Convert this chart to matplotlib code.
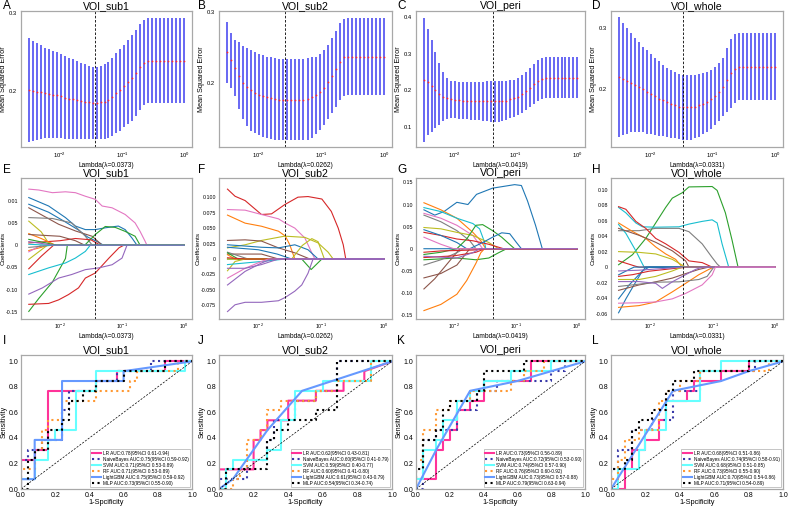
import numpy as np
import matplotlib
matplotlib.use('Agg')
import matplotlib.pyplot as plt
from matplotlib.ticker import NullLocator

plt.rcParams['font.family'] = ['Liberation Sans', 'DejaVu Sans']

titles = ['VOI_sub1', 'VOI_sub2', 'VOI_peri', 'VOI_whole']
best_lambda = [0.0373, 0.0262, 0.0419, 0.0331]

# lambda grid of the cross-validation
lambdas = np.logspace(-2.5, 0, 40)

# ---- row 1: CV mean squared error (mean and sd per lambda) ----
mse_sub1 = [0.201, 0.200, 0.199, 0.198, 0.197, 0.196, 0.195, 0.194, 0.193, 0.191,
            0.190, 0.189, 0.188, 0.187, 0.186, 0.185, 0.184, 0.184, 0.185, 0.186,
            0.188, 0.192, 0.197, 0.201, 0.206, 0.211, 0.216, 0.223, 0.230, 0.236,
            0.2385, 0.2385, 0.2385, 0.2385, 0.2385, 0.2385, 0.2385, 0.2385, 0.2385, 0.2385]
sd_sub1 = [0.066, 0.064, 0.062, 0.060, 0.058, 0.057, 0.056, 0.055, 0.054, 0.053,
           0.052, 0.051, 0.050, 0.049, 0.048, 0.047, 0.046, 0.046, 0.047, 0.048,
           0.049, 0.050, 0.051, 0.052, 0.053, 0.054, 0.055, 0.055, 0.055, 0.0545,
           0.0545, 0.0545, 0.0545, 0.0545, 0.0545, 0.0545, 0.0545, 0.0545, 0.0545, 0.0545]
mse_sub2 = [0.243, 0.232, 0.221, 0.210, 0.200, 0.194, 0.189, 0.186, 0.183, 0.181,
            0.179, 0.178, 0.177, 0.176, 0.176, 0.176, 0.176, 0.176, 0.176, 0.176,
            0.177, 0.179, 0.182, 0.187, 0.193, 0.201, 0.210, 0.220, 0.230, 0.236,
            0.237, 0.237, 0.237, 0.237, 0.237, 0.237, 0.237, 0.237, 0.237, 0.237]
sd_sub2 = [0.043, 0.039, 0.040, 0.048, 0.052, 0.055, 0.057, 0.058, 0.058, 0.058,
           0.058, 0.058, 0.058, 0.058, 0.058, 0.058, 0.058, 0.058, 0.058, 0.058,
           0.058, 0.057, 0.055, 0.054, 0.053, 0.053, 0.053, 0.054, 0.055, 0.055,
           0.0545, 0.0545, 0.0545, 0.0545, 0.0545, 0.0545, 0.0545, 0.0545, 0.0545, 0.0545]
mse_peri = [0.229, 0.222, 0.212, 0.200, 0.190, 0.183, 0.178, 0.175, 0.174, 0.173,
            0.172, 0.172, 0.171, 0.171, 0.171, 0.170, 0.170, 0.170, 0.170, 0.170,
            0.171, 0.172, 0.175, 0.178, 0.183, 0.190, 0.198, 0.207, 0.217, 0.226,
            0.232, 0.2345, 0.2345, 0.2345, 0.2345, 0.2345, 0.2345, 0.2345, 0.2345, 0.2345]
sd_peri = [0.169, 0.145, 0.125, 0.104, 0.084, 0.067, 0.057, 0.051, 0.051, 0.051,
           0.051, 0.051, 0.051, 0.051, 0.051, 0.053, 0.055, 0.056, 0.056, 0.056,
           0.055, 0.054, 0.052, 0.050, 0.050, 0.051, 0.052, 0.053, 0.055, 0.056,
           0.056, 0.056, 0.056, 0.056, 0.056, 0.056, 0.056, 0.056, 0.056, 0.056]
mse_whole = [0.220, 0.217, 0.214, 0.211, 0.207, 0.204, 0.200, 0.196, 0.192, 0.189,
             0.185, 0.182, 0.179, 0.176, 0.174, 0.172, 0.171, 0.1705, 0.171, 0.172,
             0.174, 0.177, 0.180, 0.184, 0.189, 0.196, 0.204, 0.215, 0.226, 0.234,
             0.237, 0.237, 0.237, 0.237, 0.237, 0.237, 0.237, 0.237, 0.237, 0.237]
sd_whole = [0.098, 0.092, 0.086, 0.081, 0.077, 0.073, 0.070, 0.068, 0.065, 0.063,
            0.061, 0.058, 0.056, 0.055, 0.054, 0.0535, 0.053, 0.053, 0.053, 0.052,
            0.051, 0.050, 0.049, 0.048, 0.047, 0.047, 0.048, 0.052, 0.056, 0.056,
            0.055, 0.055, 0.055, 0.055, 0.055, 0.055, 0.055, 0.055, 0.055, 0.055]

# ---- row 2: lasso coefficient paths, points are (log10 lambda, coefficient) ----
paths_sub1 = [
    [(-2.5, 0.126), (-2.34, 0.124), (-2.12, 0.118), (-1.91, 0.120), (-1.75, 0.118), (-1.59, 0.110), (-1.43, 0.103),
     (-1.32, 0.088), (-1.16, 0.084), (-0.95, 0.069), (-0.79, 0.050), (-0.71, 0.031), (-0.63, 0.009), (-0.60, 0), (0, 0)],
    [(-2.5, 0.107), (-2.18, 0.088), (-1.91, 0.062), (-1.75, 0.043), (-1.59, 0.035), (-1.43, 0.035), (-1.27, 0.039),
     (-1.06, 0.043), (-0.95, 0.035), (-0.84, 0.016), (-0.76, 0), (0, 0)],
    [(-2.5, 0.092), (-2.18, 0.074), (-1.91, 0.052), (-1.70, 0.034), (-1.55, 0.018), (-1.40, 0.008), (-1.30, 0), (0, 0)],
    [(-2.5, 0.084), (-2.02, 0.047), (-1.75, 0.032), (-1.48, 0.020), (-1.32, 0), (0, 0)],
    [(-2.5, 0.062), (-2.12, 0.060), (-1.81, 0.050), (-1.59, 0.020), (-1.48, 0), (0, 0)],
    [(-2.5, 0.054), (-2.3, 0.030), (-2.16, 0), (0, 0)],
    [(-2.5, -0.149), (-2.34, -0.120), (-2.12, -0.083), (-1.91, -0.030), (-1.88, 0), (-1.60, 0), (-1.43, 0.024),
     (-1.27, 0.042), (-1.11, 0.040), (-0.95, 0.031), (-0.79, 0.020), (-0.71, 0), (0, 0)],
    [(-2.5, -0.133), (-2.18, -0.131), (-2.02, -0.123), (-1.86, -0.111), (-1.70, -0.096), (-1.59, -0.074),
     (-1.43, -0.0625), (-1.21, -0.029), (-1.05, -0.006), (-0.97, 0), (0, 0)],
    [(-2.5, -0.110), (-2.28, -0.096), (-2.02, -0.074), (-1.81, -0.066), (-1.59, -0.055), (-1.37, -0.051),
     (-1.16, -0.044), (-1.00, -0.029), (-0.92, 0), (0, 0)],
    [(-2.5, -0.066), (-2.18, -0.051), (-1.91, -0.040), (-1.75, -0.029), (-1.59, -0.014), (-1.51, 0), (0, 0)],
    [(-2.5, 0.005), (-2.0, 0.010), (-1.75, 0.015), (-1.5, 0.012), (-1.35, 0), (0, 0)],
    [(-2.5, -0.053), (-2.3, -0.025), (-2.1, 0), (0, 0)],
    [(-2.5, 0.026), (-2.3, 0.015), (-2.07, 0), (0, 0)],
    [(-2.5, -0.012), (-2.3, -0.005), (-2.2, 0), (0, 0)],
    [(-2.5, 0.024), (-2.0, 0.020), (-1.75, 0.010), (-1.6, 0), (0, 0)],
    [(-2.5, -0.015), (-2.3, 0), (0, 0)],
    [(-2.5, -0.032), (-2.2, 0), (0, 0)],
    [(-2.5, -0.005), (-2.1, 0), (0, 0)],
    [(-2.5, 0.013), (-2.05, 0), (0, 0)],
    [(-2.5, 0.002), (-2.2, 0), (0, 0)],
    [(-2.5, 0.008), (-2.1, 0), (0, 0)],
]
colors_sub1 = ['C6', 'C0', 'C0', 'C5', 'C7', 'C8', 'C2', 'C3', 'C4', 'C9', 'C3', 'C3', 'C1', 'C1', 'C5',
               'C6', 'C8', 'C7', 'C2', 'C9', 'C4']

paths_sub2 = [
    [(-2.49, 0.113), (-2.37, 0.1015), (-2.21, 0.0945), (-1.95, 0.072), (-1.79, 0.073), (-1.58, 0.088), (-1.37, 0.100),
     (-1.21, 0.101), (-0.99, 0.097), (-0.84, 0.077), (-0.73, 0.050), (-0.65, 0.023), (-0.61, 0), (0, 0)],
    [(-2.49, 0.080), (-2.21, 0.079), (-1.95, 0.072), (-1.68, 0.065), (-1.57, 0.058), (-1.42, 0.050), (-1.26, 0.034),
     (-1.15, 0.010), (-1.10, 0), (0, 0)],
    [(-2.49, 0.071), (-2.21, 0.058), (-1.95, 0.053), (-1.68, 0.045), (-1.57, 0.037), (-1.50, 0.023), (-1.42, 0), (0, 0)],
    [(-2.49, 0.018), (-2.21, 0.023), (-1.95, 0.030), (-1.58, 0.037), (-1.26, 0.035), (-1.05, 0.026), (-0.89, 0.011),
     (-0.81, 0), (0, 0)],
    [(-2.49, 0.030), (-2.21, 0.031), (-1.95, 0.029), (-1.68, 0.018), (-1.42, 0.010), (-1.18, 0), (0, 0)],
    [(-2.49, 0.023), (-2.21, 0.021), (-1.95, 0.019), (-1.68, 0.018), (-1.42, 0.023), (-1.21, 0.015), (-1.05, 0), (0, 0)],
    [(-2.49, 0.019), (-2.0, 0.015), (-1.7, 0.008), (-1.47, 0), (0, 0)],
    [(-2.49, 0), (-1.31, 0), (-1.16, -0.017), (-0.99, 0), (0, 0)],
    [(-2.49, 0), (-1.47, 0), (-1.30, 0.022), (-1.15, 0.033), (-1.05, 0.028), (-0.95, 0), (0, 0)],
    [(-2.49, 0.008), (-1.95, 0.008), (-1.68, 0), (0, 0)],
    [(-2.49, 0.011), (-2.21, 0.0016), (-2.16, 0), (0, 0)],
    [(-2.49, 0.007), (-2.37, 0), (0, 0)],
    [(-2.49, 0.010), (-2.32, 0), (0, 0)],
    [(-2.49, -0.019), (-2.37, -0.004), (-2.21, 0), (0, 0)],
    [(-2.49, -0.009), (-1.95, -0.004), (-1.57, 0), (0, 0)],
    [(-2.49, 0.002), (-2.2, 0), (0, 0)],
    [(-2.49, -0.031), (-2.21, -0.015), (-1.95, -0.004), (-1.84, 0), (0, 0)],
    [(-2.49, -0.015), (-2.21, -0.015), (-1.95, -0.009), (-1.68, 0), (0, 0)],
    [(-2.49, -0.042), (-2.21, -0.020), (-1.95, -0.0065), (-1.79, 0), (0, 0)],
    [(-2.49, -0.085), (-2.37, -0.074), (-2.21, -0.070), (-1.95, -0.070), (-1.68, -0.0675), (-1.57, -0.062),
     (-1.42, -0.052), (-1.31, -0.042), (-1.21, -0.023), (-1.13, 0), (0, 0)],
]
colors_sub2 = ['C3', 'C6', 'C1', 'C8', 'C5', 'C0', 'C0', 'C2', 'C8', 'C5', 'C7', 'C1', 'C2', 'C8', 'C9',
               'C3', 'C6', 'C4', 'C4', 'C4']

paths_peri = [
    [(-2.496, 0.088), (-2.32, 0.076), (-2.17, 0.084), (-1.96, 0.105), (-1.78, 0.100), (-1.64, 0.123), (-1.38, 0.137),
     (-1.02, 0.145), (-0.91, 0.143), (-0.81, 0.108), (-0.68, 0.053), (-0.57, 0), (0, 0)],
    [(-2.496, 0.104), (-2.22, 0.088), (-1.96, 0.069), (-1.70, 0.037), (-1.57, 0.018), (-1.49, 0), (0, 0)],
    [(-2.496, 0.093), (-2.22, 0.084), (-1.96, 0.069), (-1.70, 0.057), (-1.59, 0.045), (-1.51, 0.015), (-1.49, 0), (0, 0)],
    [(-2.496, 0.080), (-2.22, 0.069), (-1.96, 0.053), (-1.70, 0.030), (-1.54, 0), (0, 0)],
    [(-2.496, 0.076), (-2.22, 0.061), (-1.96, 0.041), (-1.75, 0.018), (-1.65, 0), (0, 0)],
    [(-2.496, 0.048), (-2.22, 0.045), (-1.96, 0.037), (-1.70, 0.030), (-1.44, 0.014), (-1.28, 0), (0, 0)],
    [(-2.496, 0.037), (-2.22, 0.030), (-1.96, 0.022), (-1.70, 0.018), (-1.44, 0.010), (-1.20, 0), (0, 0)],
    [(-2.496, 0.043), (-2.22, 0.030), (-1.96, 0.014), (-1.80, 0), (0, 0)],
    [(-2.496, -0.013), (-2.22, -0.008), (-1.96, 0), (-1.80, 0.022), (-1.65, 0.053), (-1.54, 0.0545), (-1.38, 0.041),
     (-1.23, 0.026), (-1.07, 0.006), (-1.02, 0), (0, 0)],
    [(-2.496, -0.025), (-2.22, -0.023), (-1.96, -0.021), (-1.65, -0.025), (-1.44, -0.021), (-1.28, -0.009),
     (-1.15, 0), (0, 0)],
    [(-2.496, 0), (-1.75, 0), (-1.54, 0.014), (-1.38, 0.026), (-1.23, 0.036), (-1.10, 0.034), (-0.99, 0.014),
     (-0.91, 0), (0, 0)],
    [(-2.496, -0.140), (-2.22, -0.126), (-1.96, -0.103), (-1.80, -0.072), (-1.65, -0.033), (-1.57, -0.009),
     (-1.51, 0), (0, 0)],
    [(-2.496, -0.066), (-2.22, -0.056), (-1.96, -0.037), (-1.80, -0.009), (-1.75, 0), (0, 0)],
    [(-2.496, -0.091), (-2.32, -0.068), (-2.11, -0.033), (-1.96, -0.008), (-1.91, 0), (0, 0)],
    [(-2.496, -0.037), (-2.22, -0.025), (-1.96, -0.009), (-1.85, 0), (0, 0)],
    [(-2.496, -0.008), (-2.22, -0.005), (-1.70, -0.003), (-1.44, 0), (0, 0)],
    [(-2.496, -0.020), (-2.0, -0.016), (-1.65, -0.008), (-1.5, 0), (0, 0)],
    [(-2.496, 0.026), (-2.22, 0.010), (-2.01, 0), (0, 0)],
    [(-2.496, -0.017), (-1.96, -0.021), (-1.70, -0.009), (-1.59, 0), (0, 0)],
]
colors_peri = ['C0', 'C1', 'C9', 'C6', 'C7', 'C8', 'C3', 'C0', 'C2', 'C2', 'C0', 'C1', 'C5', 'C5', 'C7',
               'C3', 'C3', 'C6', 'C4']

paths_whole = [
    [(-2.504, 0.003), (-2.281, 0.016), (-2.069, 0.037), (-1.910, 0.057), (-1.751, 0.077), (-1.645, 0.089),
     (-1.485, 0.096), (-1.379, 0.1035), (-1.008, 0.104), (-0.928, 0.099), (-0.796, 0.070), (-0.690, 0.035),
     (-0.594, 0), (0, 0)],
    [(-2.504, 0.077), (-2.387, 0.070), (-2.228, 0.057), (-2.122, 0.052), (-1.910, 0.0515), (-1.538, 0.052),
     (-1.379, 0.0555), (-1.167, 0.059), (-1.008, 0.061), (-0.928, 0.057), (-0.849, 0.030), (-0.743, 0), (0, 0)],
    [(-2.504, 0.047), (-2.175, 0.047), (-1.910, 0.050), (-1.538, 0.050), (-1.379, 0.0457), (-1.167, 0.030),
     (-1.008, 0.0124), (-0.928, 0.004), (-0.875, 0), (0, 0)],
    [(-2.504, 0.078), (-2.387, 0.0746), (-2.228, 0.059), (-2.069, 0.050), (-1.910, 0.037), (-1.751, 0.030),
     (-1.538, 0.019), (-1.379, 0.008), (-1.167, 0.0058), (-1.008, 0), (0, 0)],
    [(-2.504, 0.057), (-2.281, 0.046), (-2.069, 0.037), (-1.910, 0.026), (-1.751, 0.017), (-1.592, 0.010),
     (-1.485, 0), (0, 0)],
    [(-2.504, 0.055), (-2.387, 0.0435), (-2.228, 0.021), (-2.122, 0.004), (-2.095, 0), (0, 0)],
    [(-2.504, 0.020), (-2.175, 0.019), (-1.910, 0.017), (-1.645, 0.010), (-1.432, 0), (0, 0)],
    [(-2.504, 0.050), (-2.175, 0.041), (-1.910, 0.032), (-1.645, 0.021), (-1.432, 0.008), (-1.379, 0), (0, 0)],
    [(-2.504, 0.008), (-2.228, 0.001), (-2.175, 0), (0, 0)],
    [(-2.504, -0.059), (-2.387, -0.041), (-2.228, -0.019), (-2.122, -0.005), (-2.069, 0), (0, 0)],
    [(-2.504, -0.041), (-2.334, -0.023), (-2.122, -0.005), (-2.016, 0), (0, 0)],
    [(-2.504, -0.010), (-2.334, -0.003), (-2.255, 0), (0, 0)],
    [(-2.504, -0.052), (-2.175, -0.0497), (-1.910, -0.045), (-1.645, -0.032), (-1.432, -0.021), (-1.220, -0.0098),
     (-1.061, -0.003), (-0.981, 0), (0, 0)],
    [(-2.504, -0.012), (-2.281, -0.0098), (-2.016, -0.0053), (-1.645, -0.002), (-1.379, 0), (0, 0)],
    [(-2.504, -0.030), (-2.175, -0.023), (-1.910, -0.019), (-1.645, -0.0142), (-1.485, -0.0098), (-1.220, -0.003),
     (-1.061, 0), (0, 0)],
    [(-2.504, -0.025), (-2.175, -0.022), (-1.910, -0.0195), (-1.538, -0.019), (-1.220, -0.016), (-1.088, -0.012),
     (-0.981, 0), (0, 0)],
    [(-2.504, -0.016), (-2.175, -0.016), (-1.910, -0.012), (-1.645, -0.005), (-1.485, 0), (0, 0)],
    [(-2.504, -0.0187), (-2.175, -0.0187), (-1.910, -0.021), (-1.804, -0.0275), (-1.645, -0.019), (-1.432, -0.0098),
     (-1.273, -0.003), (-1.167, 0), (0, 0)],
    [(-2.504, -0.005), (-2.175, -0.004), (-1.645, -0.001), (-1.485, 0), (0, 0)],
    [(-2.504, -0.0466), (-2.175, -0.046), (-1.910, -0.045), (-1.645, -0.041), (-1.432, -0.034), (-1.167, -0.023),
     (-1.008, -0.010), (-0.955, 0), (0, 0)],
]
colors_whole = ['C2', 'C9', 'C7', 'C3', 'C1', 'C9', 'C8', 'C5', 'C3', 'C0', 'C0', 'C0', 'C1', 'C3', 'C5',
                'C7', 'C8', 'C4', 'C4', 'C6']

coef_ylim = [(-0.166, 0.151), (-0.097, 0.131), (-0.159, 0.160), (-0.067, 0.115)]
coef_ticks = [[-0.15, -0.10, -0.05, 0, 0.05, 0.10],
              [-0.075, -0.05, -0.025, 0, 0.025, 0.05, 0.075, 0.10],
              [-0.15, -0.10, -0.05, 0, 0.05, 0.10, 0.15],
              [-0.06, -0.04, -0.02, 0, 0.02, 0.04, 0.06, 0.08, 0.10]]
coef_ticklabels = [['-0.15', '-0.10', '-0.05', '0', '0.05', '0.01'],
                   ['-0.075', '-0.050', '-0.025', '0', '0.025', '0.050', '0.075', '0.100'],
                   ['-0.15', '-0.10', '-0.05', '0', '0.05', '0.10', '0.15'],
                   ['-0.06', '-0.04', '-0.02', '0', '0.02', '0.04', '0.06', '0.08', '0.10']]

# ---- row 3: ROC curves, test set of 25 negatives and 13 positives (counts of FP / TP) ----
n_neg, n_pos = 25, 13
models = ['LR', 'NaiveBayes', 'SVM', 'RF', 'LightGBM', 'MLP']

auc_sub1 = ['0.78(95%CI 0.61-0.94)', '0.75(95%CI 0.59-0.92)', '0.71(95%CI 0.53-0.89)',
            '0.71(95%CI 0.53-0.89)', '0.75(95%CI 0.59-0.92)', '0.73(95%CI 0.55-0.90)']
fp_sub1 = [[0, 0, 2, 2, 4, 4, 11, 11, 14, 14, 21, 21, 25],
           [0, 0, 1, 1, 3, 3, 6, 6, 7, 7, 11, 11, 14, 14, 19, 19, 25],
           [0, 0, 2, 2, 4, 4, 5, 5, 8, 8, 11, 11, 24, 24, 25],
           [0, 0, 2, 2, 3, 3, 4, 4, 6, 6, 11, 11, 16, 16, 17, 17, 23, 23, 25],
           [0, 0, 2, 2, 6, 6, 15, 15, 25],
           [0, 1, 1, 2, 2, 4, 4, 6, 6, 7, 7, 9, 9, 11, 11, 15, 15, 21, 21, 25]]
tp_sub1 = [[0, 3, 3, 4, 4, 10, 10, 11, 11, 12, 12, 13, 13],
           [0, 3, 3, 4, 4, 5, 5, 8, 8, 10, 10, 11, 11, 12, 12, 13, 13],
           [0, 1, 1, 3, 3, 5, 5, 6, 6, 10, 10, 12, 12, 13, 13],
           [0, 2, 2, 4, 4, 6, 6, 7, 7, 9, 9, 10, 10, 11, 11, 12, 12, 13, 13],
           [0, 1, 1, 5, 5, 11, 11, 12, 13],
           [0, 0, 3, 3, 4, 4, 6, 6, 7, 7, 9, 9, 10, 10, 11, 11, 12, 12, 13, 13]]

auc_sub2 = ['0.62(95%CI 0.43-0.81)', '0.60(95%CI 0.41-0.79)', '0.59(95%CI 0.40-0.77)',
            '0.60(95%CI 0.41-0.80)', '0.61(95%CI 0.43-0.79)', '0.54(95%CI 0.34-0.74)']
fp_sub2 = [[0, 0, 5, 5, 6, 6, 7, 7, 10, 10, 14, 14, 18, 18, 21, 21, 25],
           [0, 0, 4, 4, 7, 7, 8, 8, 11, 11, 14, 14, 17, 17, 25],
           [0, 1, 1, 2, 2, 7, 7, 9, 9, 11, 11, 15, 15, 22, 22, 25],
           [0, 2, 2, 3, 3, 4, 4, 6, 6, 7, 7, 9, 9, 14, 14, 17, 17, 22, 22, 25],
           [0, 2, 7, 12, 25],
           [0, 1, 1, 7, 7, 8, 8, 10, 10, 14, 14, 17, 17, 25]]
tp_sub2 = [[0, 2, 2, 5, 5, 6, 6, 7, 7, 9, 9, 10, 10, 11, 11, 12, 13],
           [0, 1, 1, 3, 3, 5, 5, 7, 7, 9, 9, 10, 10, 13, 13],
           [0, 0, 2, 2, 3, 3, 4, 4, 7, 7, 10, 10, 11, 11, 13, 13],
           [0, 0, 1, 1, 2, 2, 5, 5, 6, 6, 8, 8, 9, 9, 10, 10, 11, 11, 13, 13],
           [0, 1, 6, 10, 13],
           [0, 0, 2, 2, 5, 5, 6, 6, 7, 7, 8, 8, 13, 13]]

auc_peri = ['0.73(95%CI 0.56-0.89)', '0.72(95%CI 0.53-0.90)', '0.74(95%CI 0.57-0.90)',
            '0.76(95%CI 0.60-0.92)', '0.73(95%CI 0.57-0.88)', '0.79(95%CI 0.63-0.94)']
fp_peri = [[0, 0, 3, 3, 4, 4, 5, 5, 6, 6, 8, 8, 10, 10, 17, 17, 25],
           [0, 1, 1, 3, 3, 6, 6, 9, 9, 12, 12, 20, 20, 22, 22, 25],
           [0, 0, 1, 1, 3, 3, 4, 4, 6, 6, 8, 8, 10, 10, 14, 14, 20, 20, 25],
           [0, 0, 1, 1, 3, 3, 5, 5, 8, 8, 14, 14, 16, 16, 19, 19, 25],
           [0, 3, 8, 15, 20, 25],
           [0, 0, 1, 1, 3, 3, 4, 4, 5, 5, 9, 9, 10, 10, 16, 16, 25]]
tp_peri = [[0, 1, 1, 4, 4, 5, 5, 6, 6, 8, 8, 9, 9, 11, 11, 13, 13],
           [0, 0, 5, 5, 6, 6, 8, 8, 10, 10, 11, 11, 12, 12, 13, 13],
           [0, 1, 1, 4, 4, 5, 5, 7, 7, 9, 9, 10, 10, 11, 11, 12, 12, 13, 13],
           [0, 3, 3, 6, 6, 8, 8, 9, 9, 10, 10, 11, 11, 12, 12, 13, 13],
           [0, 4, 10, 11, 12, 13],
           [0, 2, 2, 5, 5, 6, 6, 8, 8, 9, 9, 10, 10, 12, 12, 13, 13]]

auc_whole = ['0.68(95%CI 0.51-0.86)', '0.74(95%CI 0.58-0.91)', '0.68(95%CI 0.51-0.85)',
             '0.73(95%CI 0.55-0.90)', '0.70(95%CI 0.54-0.86)', '0.71(95%CI 0.54-0.89)']
fp_whole = [[0, 2, 2, 3, 3, 5, 5, 7, 7, 8, 8, 11, 11, 12, 12, 16, 16, 20, 20, 25],
            [0, 0, 1, 1, 3, 3, 6, 6, 9, 9, 13, 13, 21, 21, 25],
            [0, 1, 1, 4, 4, 5, 5, 8, 8, 13, 13, 16, 16, 25],
            [0, 0, 1, 1, 2, 2, 4, 4, 7, 7, 8, 8, 10, 10, 13, 13, 23, 23, 25],
            [0, 9, 16, 20, 25],
            [0, 0, 2, 2, 3, 3, 4, 4, 6, 6, 8, 8, 9, 9, 12, 12, 20, 20, 25]]
tp_whole = [[0, 0, 2, 2, 4, 4, 5, 5, 7, 7, 9, 9, 10, 10, 11, 11, 12, 12, 13, 13],
            [0, 2, 2, 4, 4, 6, 6, 7, 7, 10, 10, 12, 12, 13, 13],
            [0, 0, 2, 2, 4, 4, 6, 6, 9, 9, 12, 12, 13, 13],
            [0, 1, 1, 3, 3, 5, 5, 6, 6, 9, 9, 10, 10, 11, 11, 12, 12, 13, 13],
            [0, 10, 11, 12, 13],
            [0, 2, 2, 3, 3, 6, 6, 7, 7, 8, 8, 10, 10, 11, 11, 12, 12, 13, 13]]

mse_list = [(mse_sub1, sd_sub1), (mse_sub2, sd_sub2), (mse_peri, sd_peri), (mse_whole, sd_whole)]
mse_ylim = [(0.128, 0.302), (0.1086, 0.302), (0.045, 0.417), (0.106, 0.328)]
mse_ticks = [[0.2, 0.3], [0.2, 0.3], [0.1, 0.2, 0.3, 0.4], [0.2, 0.3]]
path_list = [(paths_sub1, colors_sub1), (paths_sub2, colors_sub2),
             (paths_peri, colors_peri), (paths_whole, colors_whole)]
roc_list = [(auc_sub1, fp_sub1, tp_sub1), (auc_sub2, fp_sub2, tp_sub2),
            (auc_peri, fp_peri, tp_peri), (auc_whole, fp_whole, tp_whole)]
letters = ['ABCD', 'EFGH', 'IJKL']

roc_styles = [dict(color='#ff3399', ls='-'), dict(color='#3838a8', ls=':'),
              dict(color='#66ffff', ls='-'), dict(color='#ff9933', ls=':'),
              dict(color='#6699ff', ls='-'), dict(color='black', ls=':')]

W, H = 790, 507
fig = plt.figure(figsize=(7.9, 5.07), dpi=100)

cols = [(21, 192), (219, 392), (416, 585), (611, 783)]
rows = [(11, 147), (178, 319), (355, 489)]
letter_x = [3, 198, 397, 592]
letter_y = [6, 170, 341]


def add_ax(c, r):
    l, rr = cols[c]
    t, b = rows[r]
    return fig.add_axes([l / W, 1 - b / H, (rr - l) / W, (b - t) / H])


def frame(ax, fs, pad):
    for s in ax.spines.values():
        s.set_color('#a8a8a8')
        s.set_linewidth(0.9)
    ax.tick_params(length=0, labelsize=fs, pad=pad)


for c in range(4):
    # row 1: cross-validation error
    ax = add_ax(c, 0)
    mean, sd = np.array(mse_list[c][0]), np.array(mse_list[c][1])
    ax.vlines(lambdas, mean - sd, mean + sd, color='#4040f0', lw=1.3, alpha=0.85)
    ax.plot(lambdas, mean, '.', color='#ff3030', ms=2.6, mew=0)
    ax.axvline(best_lambda[c], color='black', ls=(0, (3, 2)), lw=0.6)
    ax.set_xscale('log')
    ax.set_xlim(10 ** -2.625, 10 ** 0.125)
    ax.xaxis.set_minor_locator(NullLocator())
    ax.set_ylim(*mse_ylim[c])
    ax.set_yticks(mse_ticks[c])
    ax.set_yticklabels(['%.1f' % v for v in mse_ticks[c]])
    frame(ax, 4.2, 3)
    ax.set_title(titles[c], fontsize=7.6, pad=1.2)
    ax.set_xlabel('Lambda(\u03bb=%s)' % best_lambda[c], fontsize=4.8, labelpad=1)
    ax.set_ylabel('Mean Squared Error', fontsize=5.2, labelpad=1.5)

    # row 2: coefficient paths
    ax = add_ax(c, 1)
    paths, colors = path_list[c]
    for pts, col in zip(paths, colors):
        lx = np.array([p[0] for p in pts])
        cy = [p[1] for p in pts]
        ax.plot(10 ** lx, cy, color=col, lw=0.8)
    ax.axvline(best_lambda[c], color='black', ls=(0, (3, 2)), lw=0.6)
    ax.set_xscale('log')
    ax.set_xlim(10 ** -2.625, 10 ** 0.125)
    ax.xaxis.set_minor_locator(NullLocator())
    ax.set_ylim(*coef_ylim[c])
    ax.set_yticks(coef_ticks[c])
    ax.set_yticklabels(coef_ticklabels[c])
    frame(ax, 3.8, 2.2)
    ax.set_title(titles[c], fontsize=7.6, pad=0.5)
    ax.set_xlabel('Lambda(\u03bb=%s)' % best_lambda[c], fontsize=4.8, labelpad=1)
    ax.set_ylabel('Coefficients', fontsize=4.6, labelpad=0.3)

    # row 3: ROC curves
    ax = add_ax(c, 2)
    aucs, fps, tps = roc_list[c]
    for m, auc, fp, tp, st in zip(models, aucs, fps, tps, roc_styles):
        ax.plot(np.array(fp) / n_neg, np.array(tp) / n_pos, lw=1.5,
                label='%s AUC:%s' % (m, auc), **st)
    ax.plot([0, 1], [0, 1], color='black', ls=(0, (3, 2)), lw=0.5)
    ax.set_xlim(0, 1)
    ax.set_ylim(0, 1.05)
    ax.set_xticks([0, 0.2, 0.4, 0.6, 0.8, 1.0])
    ax.set_yticks([0, 0.2, 0.4, 0.6, 0.8, 1.0])
    frame(ax, 5, 2)
    ax.set_title(titles[c], fontsize=7.6, pad=1.5)
    ax.set_xlabel('1-Spcificity', fontsize=5.3, labelpad=0)
    ax.set_ylabel('Sensitivity', fontsize=5, labelpad=0.5)
    leg = ax.legend(loc='lower right', fontsize=3.4, borderpad=0.35, labelspacing=0.22,
                    handlelength=1.9, handletextpad=0.4, borderaxespad=0.35, fancybox=False)
    leg.get_frame().set_edgecolor('#999999')
    leg.get_frame().set_linewidth(0.5)

for r in range(3):
    for c in range(4):
        fig.text(letter_x[c] / W, 1 - letter_y[r] / H, letters[r][c], fontsize=8.5,
                 ha='left', va='center')

fig.savefig('out.png', dpi=100, facecolor='white')
